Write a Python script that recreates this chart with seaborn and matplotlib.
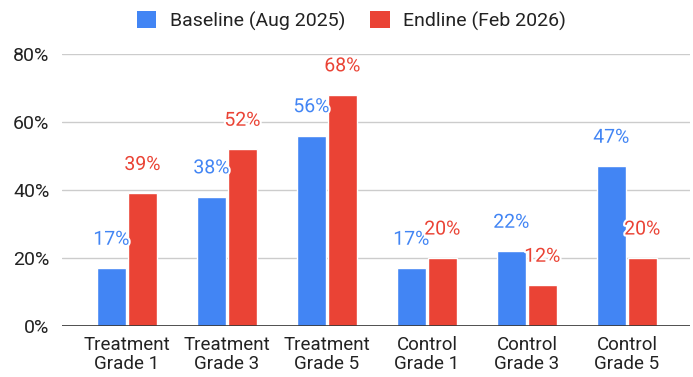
import pandas as pd
import numpy as np
import matplotlib.pyplot as plt
import matplotlib.patheffects as pe
from matplotlib.patches import Patch
import seaborn as sns

# Dados
categories = ["Treatment\nGrade 1", "Treatment\nGrade 3", "Treatment\nGrade 5",
              "Control\nGrade 1", "Control\nGrade 3", "Control\nGrade 5"]
baseline = [17, 38, 56, 17, 22, 47]
endline = [39, 52, 68, 20, 12, 20]
series = ["Baseline (Aug 2025)", "Endline (Feb 2026)"]
colors = ["#4285F4", "#EA4335"]

df = pd.DataFrame({
    "category": categories * 2,
    "value": baseline + endline,
    "series": [series[0]] * len(categories) + [series[1]] * len(categories),
})

sns.set_style("white")
plt.rcParams["font.family"] = ["Roboto", "DejaVu Sans"]

fig = plt.figure(figsize=(6.93, 3.77), dpi=100)
ax = fig.add_axes([0.0895, 0.1353, 0.906, 0.7215])

sns.barplot(data=df, x="category", y="value", hue="series", hue_order=series,
            palette=colors, width=0.62, gap=0.08, saturation=1, ax=ax, legend=False)

# Rótulos de valor
for cont, col in zip(ax.containers, colors):
    ax.bar_label(cont, labels=[f"{v:.0f}%" for v in cont.datavalues], padding=14,
                 color=col, fontsize=14,
                 path_effects=[pe.withStroke(linewidth=3, foreground="white")])

ax.set_ylim(0, 80)
ax.set_xlim(-0.65, 5.63)
ax.set_yticks([0, 20, 40, 60, 80])
ax.set_yticklabels([f"{t}%" for t in [0, 20, 40, 60, 80]])
ax.yaxis.grid(True, color="#cccccc", linewidth=1)
ax.set_axisbelow(True)
ax.axhline(0, color="#333333", linewidth=1.2)
sns.despine(ax=ax, left=True, bottom=True)
ax.tick_params(axis="y", length=0, pad=9, labelsize=14, labelcolor="#222222")
ax.tick_params(axis="x", length=0, pad=7, labelsize=13.5, labelcolor="#222222")
for lbl in ax.get_xticklabels():
    lbl.set_linespacing(1.12)
ax.set_xlabel("")
ax.set_ylabel("")

handles = [Patch(facecolor=c, edgecolor="none") for c in colors]
fig.legend(handles, series, loc="center", bbox_to_anchor=(0.507, 0.944), ncol=2,
           frameon=False, fontsize=14, handlelength=1.0, handleheight=0.95,
           handletextpad=0.7, columnspacing=1.3, labelcolor="#222222")

fig.savefig("out.png", dpi=100, facecolor="white")
